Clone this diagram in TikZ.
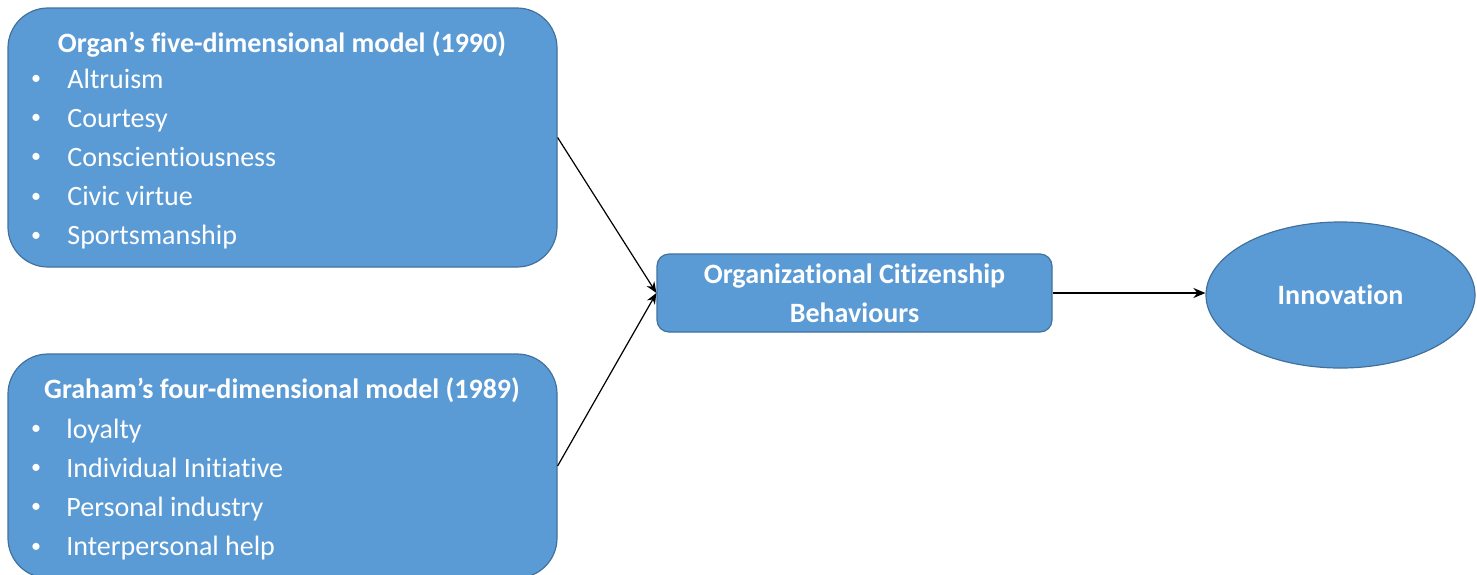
\documentclass[tikz,border=0pt]{standalone}
\usepackage{fontspec}
\setmainfont[Ligatures=NoCommon]{Carlito}
\usetikzlibrary{shapes.geometric,arrows.meta}
\definecolor{boxfill}{HTML}{5B9BD5}
\definecolor{boxline}{HTML}{41719C}
\begin{document}
\begin{tikzpicture}[x=0.5pt,y=-0.5pt,
  bigbox/.style={draw=boxline,line width=0.6pt,fill=boxfill,rounded corners=20pt,
    minimum width=274.5pt,inner sep=0pt},
  midbox/.style={draw=boxline,line width=0.6pt,fill=boxfill,rounded corners=6pt,
    minimum width=197.5pt,minimum height=39pt,inner sep=0pt,align=center,
    text=white,font=\fontsize{14}{19.5}\selectfont\bfseries},
  oval/.style={ellipse,draw=boxline,line width=0.6pt,fill=boxfill,
    minimum width=134.5pt,minimum height=73pt,inner sep=0pt,
    text=white,font=\fontsize{14}{19.5}\selectfont\bfseries},
  head/.style={anchor=base,inner sep=0pt,text=white,font=\fontsize{14}{19.5}\selectfont\bfseries},
  item/.style={anchor=base west,inner sep=0pt,text=white,font=\fontsize{14}{19.5}\selectfont},
  dot/.style={anchor=center,inner sep=0pt,text=white,font=\fontsize{10}{12}\selectfont},
  link/.style={draw=black,line width=0.6pt,-{Stealth[length=5.5pt,width=4.5pt]}},
  thicklink/.style={draw=black,line width=1pt,-{Stealth[length=6pt,width=5pt]}}]
\useasboundingbox (0,0) rectangle (1477,574);

% source models
\node[bigbox,minimum height=129.5pt] (organ) at (282.5,137.5) {};
\node[bigbox,minimum height=112pt] (graham) at (282.5,466) {};

\node[head] (organhead) at (282,52) {Organ’s five-dimensional model (1990)};
\foreach \t [count=\i] in {Altruism,Courtesy,Conscientiousness,Civic virtue,Sportsmanship}{
  \node[dot] (odot\i) at (36,{80+39.2*(\i-1)}) {•};
  \node[item] (oitem\i) at (67,{88+39.2*(\i-1)}) {\t};
}

\node[head] (grahamhead) at (282,398) {Graham’s four-dimensional model (1989)};
\foreach \t [count=\i] in {loyalty,Individual Initiative,Personal industry,Interpersonal help}{
  \node[dot] (gdot\i) at (36,{430+39.2*(\i-1)}) {•};
  \node[item] (gitem\i) at (66,{438+39.2*(\i-1)}) {\t};
}

% outcome chain
\node[midbox] (ocb) at (854.5,293) {Organizational Citizenship\\Behaviours};
\node[oval] (innov) at (1340.5,295) {Innovation};

\draw[link] (organ.east) -- (ocb.west);
\draw[link] (graham.east) -- (ocb.west);
\draw[thicklink] (ocb.east) -- (ocb.east -| innov.west);
\end{tikzpicture}
\end{document}
